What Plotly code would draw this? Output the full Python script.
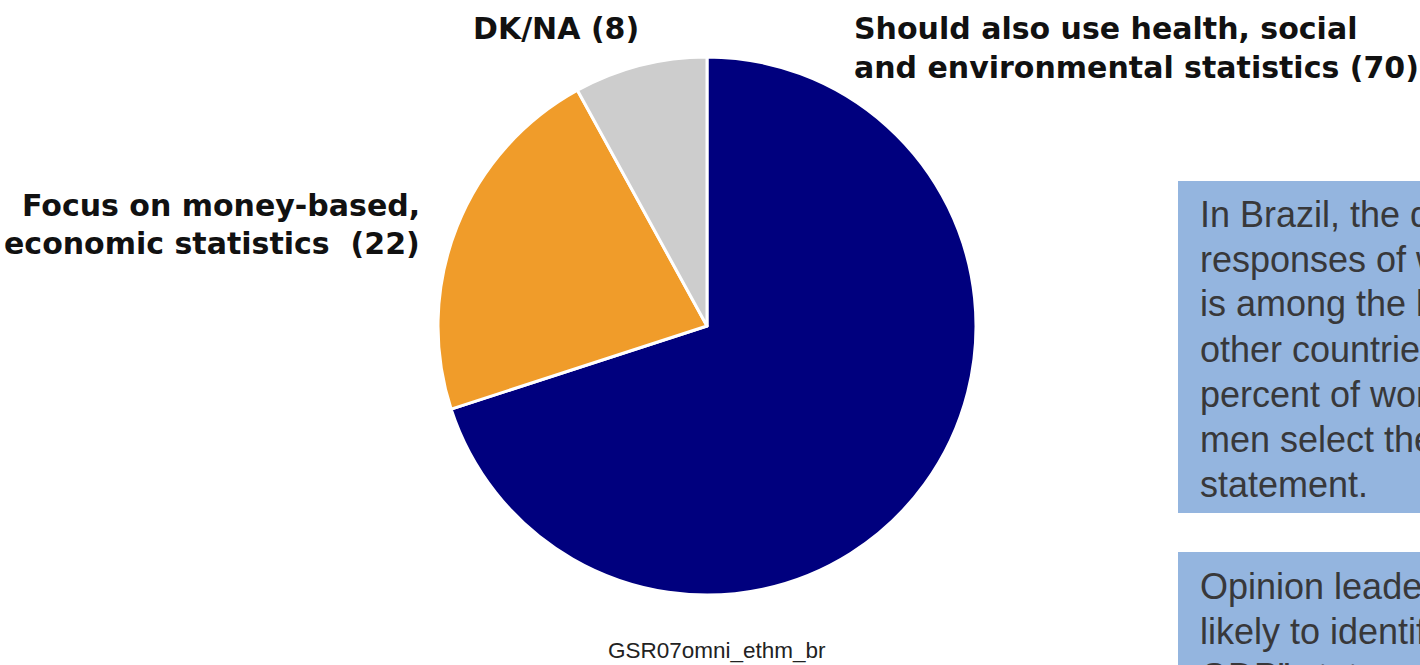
import plotly.graph_objects as go

W, H = 1420, 665

# Survey answers (percent)
categories = [
    "Should also use health, social and environmental statistics",
    "Focus on money-based, economic statistics",
    "DK/NA",
]
values = [70, 22, 8]
slice_colors = ["#00007E", "#F09C2A", "#CDCDCD"]

# Outside slice labels (one string per line)
label_lines = {
    "top_right": ["Should also use health, social", "and environmental statistics (70)"],
    "left": ["Focus on money-based,", "economic statistics  (22)"],
    "top_left": ["DK/NA (8)"],
}

note_1 = [
    "In Brazil, the difference between the",
    "responses of women and men",
    "is among the largest compared to",
    "other countries: 75 percent",
    "percent of women and 64 percent of",
    "men select the “should also use”",
    "statement.",
]
note_2 = [
    "Opinion leaders are more",
    "likely to identify with the “only",
    "GDP” statement than the public.",
]
footer = "GSR07omni_ethm_br"


def px(x):
    return x / W


def py(y):
    return 1 - y / H


cx, cy, r = 707, 326, 269

fig = go.Figure(
    go.Pie(
        labels=categories,
        values=values,
        sort=False,
        direction="clockwise",
        rotation=0,
        marker=dict(colors=slice_colors, line=dict(color="white", width=3)),
        textinfo="none",
        hoverinfo="skip",
        showlegend=False,
        domain=dict(x=[px(cx - r), px(cx + r)], y=[py(cy + r), py(cy - r)]),
    )
)

annotations = []
label_font = dict(family="DejaVu Sans, Verdana, sans-serif", size=30, color="#111111", weight="bold")
label_gap = 39


def add_lines(lines, x, y0, step, xanchor, font):
    for i, t in enumerate(lines):
        annotations.append(
            dict(
                text=t, x=px(x), y=py(y0 + i * step), xref="paper", yref="paper",
                xanchor=xanchor, yanchor="middle", showarrow=False, font=font,
                align=xanchor if xanchor != "center" else "center",
            )
        )


add_lines(label_lines["top_right"], 852, 28, label_gap, "left", label_font)
add_lines(label_lines["left"], 422, 205, label_gap, "right", label_font)
add_lines(label_lines["top_left"], 556, 28, label_gap, "center", label_font)

note_font = dict(family="Liberation Sans, Arial, sans-serif", size=36, color="#38383A")
add_lines(note_1, 1198, 214, 45, "left", note_font)
add_lines(note_2, 1198, 586, 45, "left", note_font)

annotations.append(
    dict(
        text=footer, x=px(717), y=py(650), xref="paper", yref="paper",
        xanchor="center", yanchor="middle", showarrow=False,
        font=dict(family="Liberation Sans, Arial, sans-serif", size=22.5, color="#222222"),
    )
)

box_color = "#94B5DF"
shapes = [
    dict(type="rect", xref="paper", yref="paper", x0=px(1178), x1=px(1460),
         y0=py(513), y1=py(181), fillcolor=box_color, line=dict(width=0), layer="below"),
    dict(type="rect", xref="paper", yref="paper", x0=px(1178), x1=px(1460),
         y0=py(720), y1=py(552), fillcolor=box_color, line=dict(width=0), layer="below"),
]

fig.update_layout(
    width=W,
    height=H,
    margin=dict(l=0, r=0, t=0, b=0),
    paper_bgcolor="white",
    plot_bgcolor="white",
    annotations=annotations,
    shapes=shapes,
)

fig.write_html("out.html", config={"displayModeBar": False})
